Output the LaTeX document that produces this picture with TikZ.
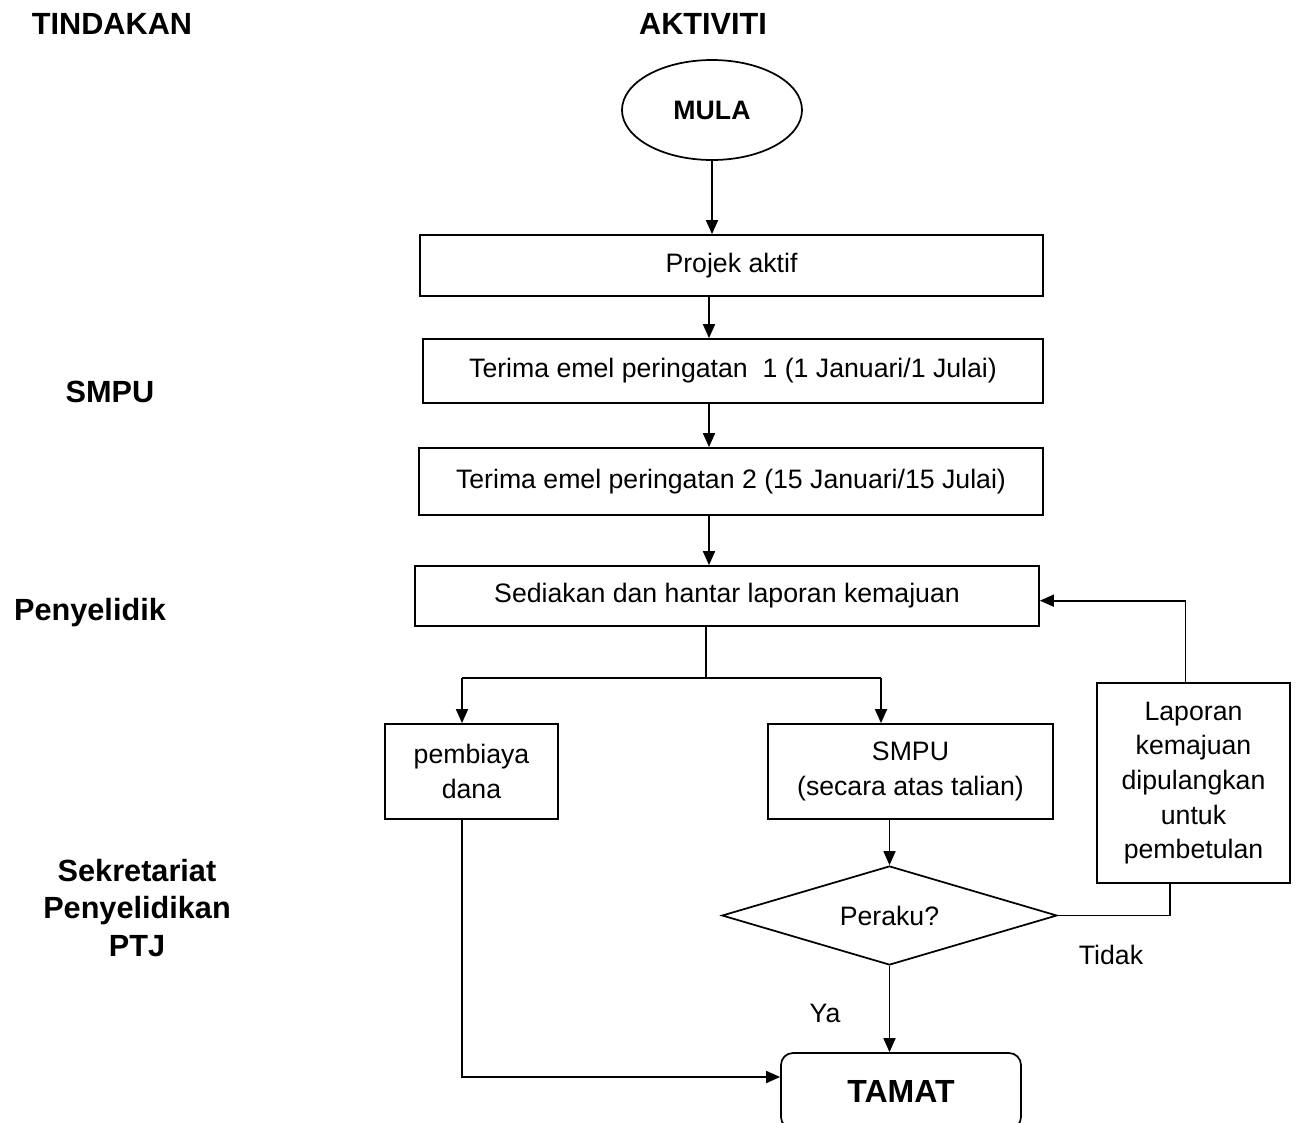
\documentclass[tikz,border=0pt]{standalone}
\usepackage{fontspec}
\setmainfont{Liberation Sans}
\usetikzlibrary{shapes.geometric,arrows.meta}

\begin{document}
\begin{tikzpicture}[x=0.75pt,y=-0.75pt,
   box/.style={draw, line width=1.3pt, rectangle, inner sep=0pt, align=center,
               font=\fontsize{20}{26}\selectfont},
   head/.style={align=center, font=\bfseries\fontsize{23}{28}\selectfont},
   arr/.style={-{Triangle[length=10.5pt,width=9pt]}, line width=1.3pt},
   line/.style={line width=1.3pt}]

   \useasboundingbox (0,0) rectangle (1297,1122);

   % lajur kiri dan kepala
   \node[head] (tindakan) at (112,24) {TINDAKAN};
   \node[head] (aktiviti) at (703,24) {AKTIVITI};
   \node[head] (smpuL) at (110,392) {SMPU};
   \node[head] (penyelidik) at (90,613) {Penyelidik};
   \node[head] (sekretariat) at (137,908) {Sekretariat\\Penyelidikan\\PTJ};

   % aliran
   \node[draw, line width=1.3pt, ellipse, minimum width=135pt, minimum height=75pt,
         font=\bfseries\fontsize{20}{24}\selectfont] (mula) at (712,110) {MULA};
   \node[box, minimum width=623*0.75pt, minimum height=61*0.75pt] (projek) at (731.5,265.5) {Projek aktif};
   \node[box, minimum width=620*0.75pt, minimum height=64*0.75pt] (emel1) at (733,371) {Terima emel peringatan~ 1 (1 Januari/1 Julai)};
   \node[box, minimum width=624*0.75pt, minimum height=67*0.75pt] (emel2) at (731,481.5) {Terima emel peringatan 2 (15 Januari/15 Julai)};
   \node[box, minimum width=624*0.75pt, minimum height=60*0.75pt] (sedia) at (727,596) {Sediakan dan hantar laporan kemajuan};
   \node[box, minimum width=173*0.75pt, minimum height=95*0.75pt] (pembiaya) at (471.5,771.5) {pembiaya\\dana};
   \node[box, minimum width=285*0.75pt, minimum height=95*0.75pt] (smpu) at (910.5,771.5) {SMPU\\(secara atas talian)};
   \node[box, minimum width=193*0.75pt, minimum height=200*0.75pt] (lapor) at (1193.5,783) {Laporan\\kemajuan\\dipulangkan\\untuk\\pembetulan};
   \node[draw, line width=1.3pt, diamond, aspect=3.38, inner sep=0pt, minimum width=335*0.75pt, minimum height=99*0.75pt,
         font=\fontsize{20}{26}\selectfont] (peraku) at (889.5,915.5) {Peraku?};
   \node[draw, line width=1.3pt, rounded corners=9pt, minimum width=240*0.75pt, minimum height=76*0.75pt,
         font=\bfseries\fontsize{24}{28}\selectfont] (tamat) at (901,1091) {TAMAT};

   \node[font=\fontsize{20}{26}\selectfont] (tidak) at (1111,955) {Tidak};
   \node[font=\fontsize{20}{26}\selectfont] (ya) at (825,1013) {Ya};

   \coordinate (spine) at (709,0);
   \coordinate (split) at (706,678);
   \coordinate (splitL) at (462,678);
   \coordinate (splitR) at (881,678);

   \draw[arr] (mula.south) -- (mula.south |- projek.north);
   \draw[arr] (spine |- projek.south) -- (spine |- emel1.north);
   \draw[arr] (spine |- emel1.south) -- (spine |- emel2.north);
   \draw[arr] (spine |- emel2.south) -- (spine |- sedia.north);

   \draw[line] (split |- sedia.south) -- (split);
   \draw[line] (splitL) -- (splitR);
   \draw[arr] (splitL) -- (splitL |- pembiaya.north);
   \draw[arr] (splitR) -- (splitR |- smpu.north);

   \draw[arr] (peraku.north |- smpu.south) -- (peraku.north);
   \draw[line] (peraku.east) -| ([xshift=-17.6pt]lapor.south);
   \draw[arr] ([xshift=-6pt]lapor.north) |- ([yshift=-3.5pt]sedia.east);
   \draw[arr] (peraku.south) -- (peraku.south |- tamat.north);
   \draw[arr] (splitL |- pembiaya.south) |- ([yshift=10.5pt]tamat.west);

\end{tikzpicture}
\end{document}
